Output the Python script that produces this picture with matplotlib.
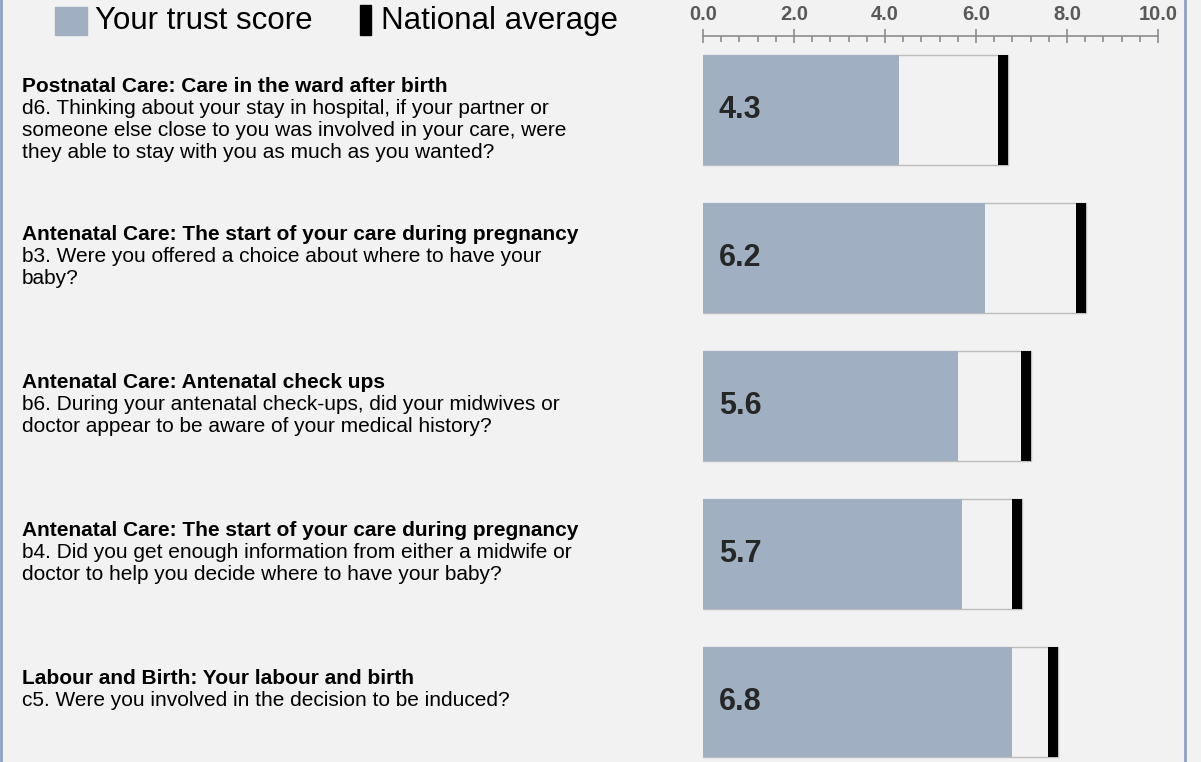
import matplotlib.pyplot as plt
from matplotlib import transforms
from matplotlib.patches import Rectangle
from matplotlib.lines import Line2D
from matplotlib.ticker import MultipleLocator, FormatStrFormatter

sections = [
    "Postnatal Care: Care in the ward after birth",
    "Antenatal Care: The start of your care during pregnancy",
    "Antenatal Care: Antenatal check ups",
    "Antenatal Care: The start of your care during pregnancy",
    "Labour and Birth: Your labour and birth",
]
questions = [
    "d6. Thinking about your stay in hospital, if your partner or\n"
    "someone else close to you was involved in your care, were\n"
    "they able to stay with you as much as you wanted?",
    "b3. Were you offered a choice about where to have your\nbaby?",
    "b6. During your antenatal check-ups, did your midwives or\n"
    "doctor appear to be aware of your medical history?",
    "b4. Did you get enough information from either a midwife or\n"
    "doctor to help you decide where to have your baby?",
    "c5. Were you involved in the decision to be induced?",
]
trust_scores = [4.3, 6.2, 5.6, 5.7, 6.8]
national_avg = [6.6, 8.3, 7.1, 6.9, 7.7]

BG = "#f2f2f2"
BLUE = "#a0afc2"
W, H = 1201, 762

plt.rcParams["font.family"] = ["Liberation Sans", "DejaVu Sans"]
fig = plt.figure(figsize=(W / 100, H / 100), dpi=100, facecolor=BG)

# bar area: x=0 at px 703, x=10 at px 1158, axis line at px 36
ax = fig.add_axes([703 / W, 0, (1158 - 703) / W, 1 - 36 / H])
ax.set_facecolor("none")
ax.set_xlim(0, 10)
ax.set_ylim(4 + 60 / 148, -74 / 148)
bh = 110 / 148
mw = 0.22

for i, (s, n) in enumerate(zip(trust_scores, national_avg)):
    ax.add_patch(Rectangle((0, i - bh / 2), n + mw / 2, bh, facecolor=BG,
                           edgecolor="#bdbdbd", lw=1, zorder=1))
    ax.barh(i, s, height=bh, color=BLUE, zorder=2)
    ax.barh(i, mw, left=n - mw / 2, height=bh, color="black", zorder=3)
    ax.text(0.35, i, f"{s:.1f}", fontsize=22, fontweight="bold",
            color="#262626", va="center", ha="left", zorder=4)

for side in ["left", "right", "bottom"]:
    ax.spines[side].set_visible(False)
ax.spines["top"].set_color("#8c8c8c")
ax.spines["top"].set_linewidth(1.2)
ax.set_yticks([])
ax.xaxis.tick_top()
ax.xaxis.set_major_locator(MultipleLocator(2))
ax.xaxis.set_minor_locator(MultipleLocator(0.4))
ax.xaxis.set_major_formatter(FormatStrFormatter("%.1f"))
ax.tick_params(axis="x", which="major", direction="inout", length=10, width=1.2,
               color="#8c8c8c", pad=4, labelsize=14.5, labelcolor="#595959")
ax.tick_params(axis="x", which="minor", direction="in", length=4, width=1.2,
               color="#8c8c8c")
for lbl in ax.get_xticklabels():
    lbl.set_fontweight("bold")

# left-hand question text
trans = transforms.blended_transform_factory(fig.transFigure, ax.transData)
for i, (sec, q) in enumerate(zip(sections, questions)):
    lines = [(sec, "bold")] + [(l, "normal") for l in q.split("\n")]
    for j, (txt, wt) in enumerate(lines):
        off = -(32 + 22 * j) * 0.72
        t = transforms.offset_copy(trans, fig=fig, y=off, units="points")
        fig.text(22 / W, i - bh / 2, txt, transform=t, fontsize=15,
                 fontweight=wt, va="center", ha="left", color="black")

# legend
fig.patches.append(Rectangle((55 / W, 1 - 35 / H), 32 / W, 28 / H,
                             transform=fig.transFigure, color=BLUE))
fig.text(95 / W, 1 - 21 / H, "Your trust score", fontsize=22.5,
         va="center", ha="left")
fig.patches.append(Rectangle((360 / W, 1 - 35 / H), 11 / W, 30 / H,
                             transform=fig.transFigure, color="black"))
fig.text(381 / W, 1 - 21 / H, "National average", fontsize=22.5,
         va="center", ha="left")

# panel border
for px in [1, 1185]:
    fig.lines.append(Line2D([px / W, px / W], [0, 1], transform=fig.transFigure,
                            color="#8ea2c0", lw=2))

fig.savefig("out.png", dpi=100, facecolor=BG)
